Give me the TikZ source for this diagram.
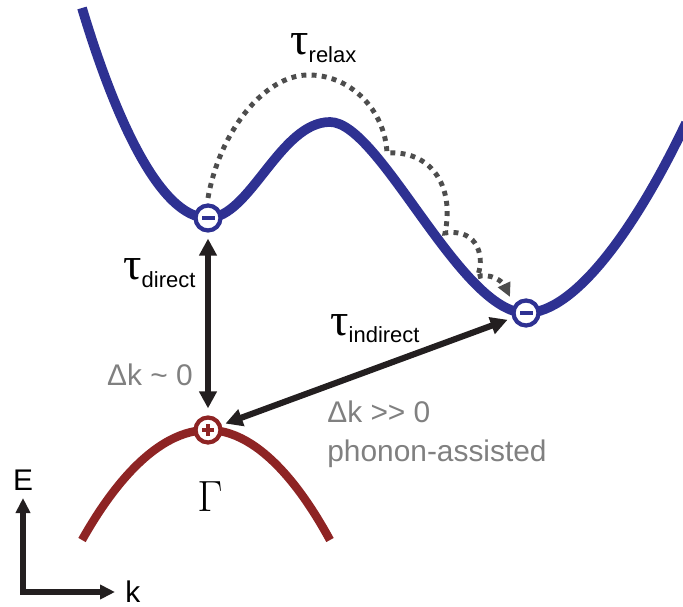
\documentclass[tikz,border=0pt]{standalone}
\usepackage{fontspec}
\setmainfont{Liberation Sans}
\newfontfamily\taufont{Liberation Serif}
\usetikzlibrary{arrows.meta}
\definecolor{bandblue}{RGB}{46,49,146}
\definecolor{bandred}{RGB}{142,36,36}
\definecolor{labelgray}{RGB}{128,128,128}
\definecolor{dotgray}{RGB}{77,77,77}
\definecolor{arrowblack}{RGB}{35,31,32}
\newcommand{\tlabel}[1]{{\taufont\fontsize{26}{26}\selectfont τ}\raisebox{-4.5pt}{\fontsize{12.5}{12.5}\selectfont #1}}

\begin{document}
\begin{tikzpicture}[>={Triangle[length=0.34cm,width=0.34cm]},font=\fontsize{17}{17}\selectfont,
  carrier/.style={circle,fill=white,line width=2.4pt,minimum size=0.5cm,inner sep=0pt},
  electron/.style={carrier,draw=bandblue,path picture={\fill[bandblue] ([shift={(-0.13,-0.045)}]path picture bounding box.center) rectangle ++(0.26,0.09);}},
  hole/.style={carrier,draw=bandred,path picture={\fill[bandred] ([shift={(-0.12,-0.045)}]path picture bounding box.center) rectangle ++(0.24,0.09);
    \fill[bandred] ([shift={(-0.045,-0.12)}]path picture bounding box.center) rectangle ++(0.09,0.24);}},
  transition/.style={arrowblack,line width=3.5pt},
  relax/.style={dotgray,line width=2.8pt,dash pattern=on 2.8pt off 3.0pt,-{Triangle[length=0.28cm,width=0.26cm]}},
  axis/.style={arrowblack,line width=3pt,{Triangle[length=0.3cm,width=0.28cm]}-{Triangle[length=0.3cm,width=0.28cm]}}]
\useasboundingbox (0,0) rectangle (13.66,12.12);
\draw[bandblue,line width=5.5pt] (1.64,11.96) .. controls (2.30,9.76) and (3.20,7.76) .. (4.16,7.76)
  .. controls (5.00,7.76) and (5.60,9.68) .. (6.60,9.68)
  .. controls (7.60,9.68) and (9.20,5.86) .. (10.52,5.86)
  .. controls (11.50,5.86) and (12.72,7.56) .. (13.72,9.66);
\draw[bandred,line width=4.8pt] (1.64,1.32) parabola bend (4.16,3.52) (6.60,1.32);
\draw[relax] (4.16,8.16) .. controls (4.40,9.52) and (5.30,10.60) .. (6.14,10.62)
  .. controls (7.00,10.64) and (7.70,9.92) .. (7.74,9.06)
  .. controls (8.60,9.12) and (9.10,8.42) .. (8.90,7.46)
  .. controls (9.60,7.56) and (9.70,6.92) .. (9.54,6.58)
  .. controls (9.80,6.68) and (10.06,6.48) .. (10.20,6.18);
\node[electron] (eDirect) at (4.16,7.76) {};
\node[electron] (eIndirect) at (10.52,5.86) {};
\node[hole] (hGamma) at (4.16,3.52) {};
\draw[transition,<->,shorten <=0.12cm,shorten >=0.14cm] (eDirect) -- (hGamma);
\draw[transition,<->,shorten <=0.08cm,shorten >=0.1cm] (hGamma) -- (eIndirect);
\node[anchor=base west,inner sep=0pt] (tauRelax) at (5.80,11.02) {\tlabel{relax}};
\node[anchor=base west,inner sep=0pt] (tauDirect) at (2.46,6.52) {\tlabel{direct}};
\node[anchor=base west,inner sep=0pt] (tauIndirect) at (6.60,5.42) {\tlabel{indirect}};
\node[anchor=base east,inner sep=0pt,labelgray] (dkDirect) at (3.86,4.42) {Δk \textasciitilde{} 0};
\node[anchor=base west,inner sep=0pt,labelgray] (dkIndirect) at (6.54,3.68) {Δk >{}> 0};
\node[anchor=base west,inner sep=0pt,labelgray] (phonon) at (6.54,2.90) {phonon-assisted};
\node[font=\fontsize{24}{24}\selectfont] (gammaLbl) at (4.20,2.18) {$\Gamma$};
\coordinate (origin) at (0.46,0.28);
\coordinate (Eend) at (0.46,2.16);
\coordinate (kend) at (2.30,0.28);
\draw[axis] (Eend) -- (origin) -- (kend);
\node[above=1pt] (Elbl) at (Eend) {E};
\node[anchor=base west,inner sep=0pt] (klbl) at (2.50,0.08) {k};
\end{tikzpicture}
\end{document}
